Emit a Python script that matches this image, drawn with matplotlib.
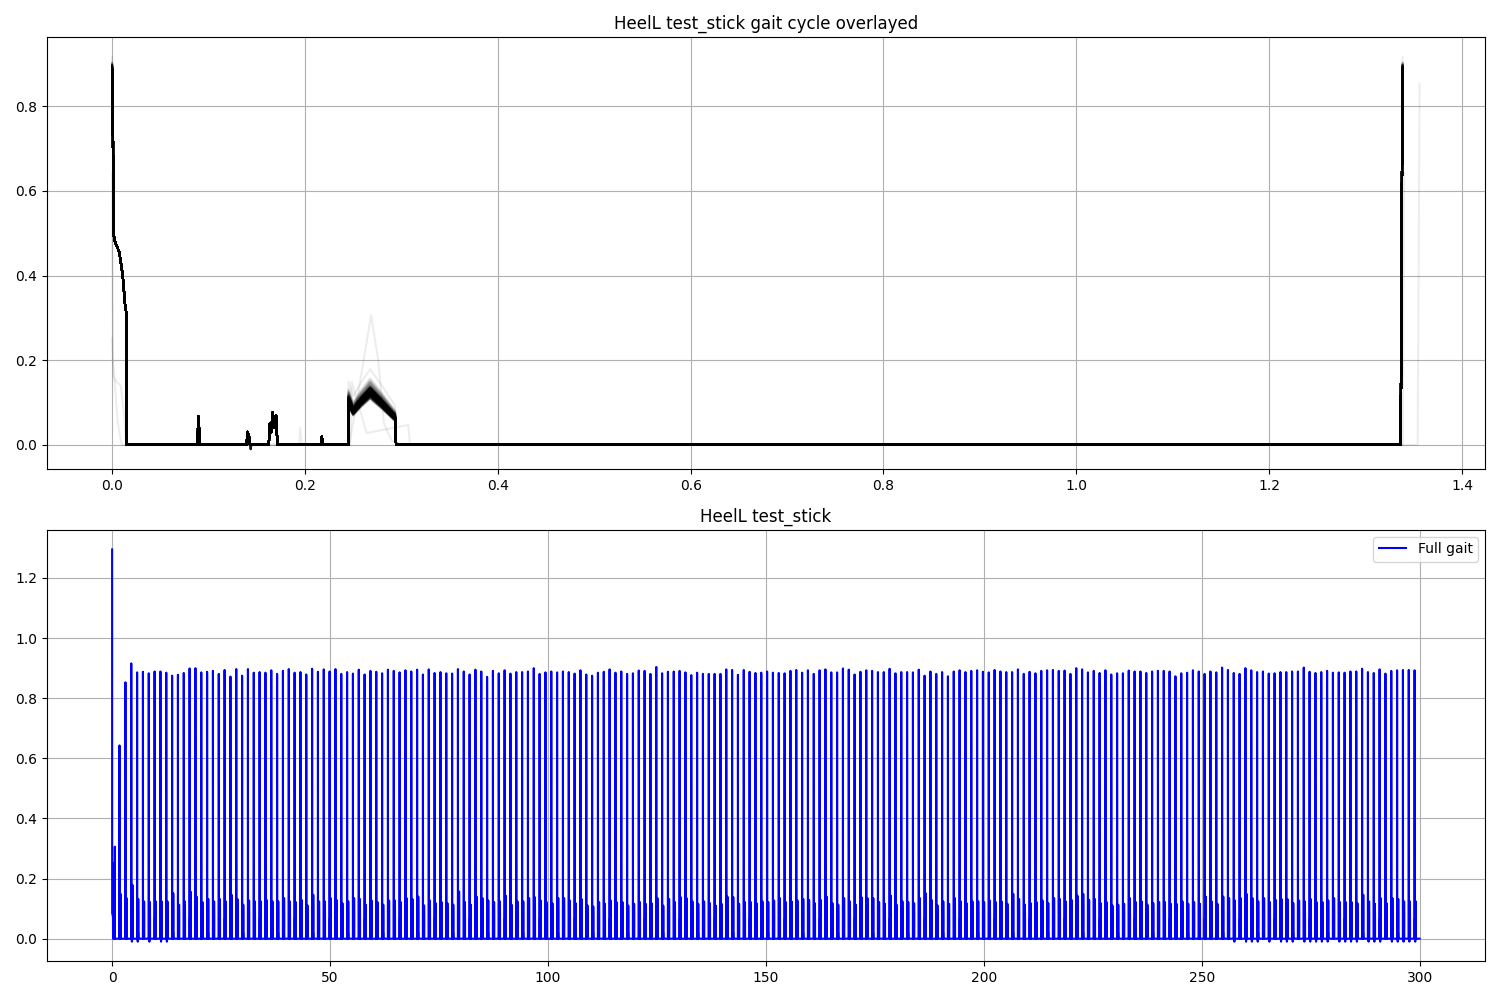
import numpy as np
import matplotlib.pyplot as plt

# heel strike peak of every regular cycle (left to right)
heel_peaks = [0.853, 0.916, 0.886, 0.888, 0.883, 0.889, 0.889, 0.885, 0.875, 0.878,
              0.884, 0.899, 0.900, 0.886, 0.888, 0.891, 0.881, 0.894, 0.872, 0.897,
              0.875, 0.897, 0.885, 0.887, 0.885, 0.893, 0.881, 0.891, 0.897, 0.885,
              0.887, 0.879, 0.898, 0.888, 0.896, 0.889, 0.897, 0.881, 0.887, 0.882,
              0.895, 0.879, 0.891, 0.888, 0.883, 0.895,
              0.891, 0.886, 0.893, 0.889, 0.895, 0.879, 0.896, 0.884, 0.887, 0.883,
              0.882, 0.897, 0.889, 0.879, 0.895, 0.889, 0.871, 0.891, 0.883, 0.893,
              0.882, 0.887, 0.887, 0.889, 0.900, 0.881, 0.886, 0.889, 0.886, 0.889,
              0.887, 0.882, 0.893, 0.879, 0.875, 0.885, 0.888, 0.896, 0.885, 0.889,
              0.881, 0.883, 0.892, 0.891, 0.881, 0.904, 0.883, 0.888, 0.889, 0.891,
              0.886, 0.877, 0.885, 0.881, 0.881, 0.881, 0.881, 0.896, 0.894, 0.878,
              0.894, 0.888, 0.884, 0.885, 0.889, 0.885, 0.884,
              0.883, 0.891, 0.894, 0.885, 0.893, 0.881, 0.893, 0.896, 0.886, 0.886,
              0.899, 0.895, 0.879, 0.888, 0.893, 0.891, 0.887, 0.887, 0.898, 0.883,
              0.887, 0.887, 0.886, 0.895, 0.875, 0.889, 0.881, 0.887, 0.873, 0.889,
              0.893, 0.887, 0.891, 0.893, 0.888, 0.886, 0.894, 0.889, 0.887, 0.887,
              0.896, 0.881, 0.888, 0.883, 0.891, 0.893, 0.894, 0.891, 0.892, 0.881,
              0.900, 0.896, 0.886, 0.891, 0.884, 0.893, 0.879, 0.883, 0.883, 0.892,
              0.889, 0.889, 0.884, 0.889, 0.891, 0.891,
              0.889, 0.873, 0.883, 0.885, 0.893, 0.889, 0.881, 0.889, 0.886, 0.902,
              0.894, 0.884, 0.881, 0.900, 0.893, 0.887, 0.889, 0.882, 0.883, 0.887,
              0.887, 0.889, 0.889, 0.902, 0.888, 0.884, 0.887, 0.891, 0.885, 0.886,
              0.885, 0.889, 0.889, 0.898, 0.887, 0.884, 0.896, 0.882, 0.891, 0.893,
              0.894, 0.894, 0.893]

# height of the second (mid stance) bump of every regular cycle
bump_peaks = [0.135, 0.179, 0.132, 0.124, 0.122, 0.124, 0.124, 0.124, 0.151, 0.113,
              0.124, 0.156, 0.140, 0.122, 0.132, 0.124, 0.132, 0.124, 0.146, 0.132,
              0.113, 0.127, 0.124, 0.124, 0.129, 0.124, 0.124, 0.135, 0.124, 0.122,
              0.129, 0.111, 0.146, 0.124, 0.124, 0.135, 0.129, 0.118, 0.124, 0.135,
              0.132, 0.113,
              0.127, 0.122, 0.113, 0.127, 0.127, 0.122, 0.135, 0.132, 0.140, 0.111,
              0.127, 0.118, 0.122, 0.118, 0.113, 0.157, 0.122, 0.113, 0.140, 0.135,
              0.127, 0.122, 0.124, 0.143, 0.113, 0.124, 0.124, 0.135, 0.138, 0.127,
              0.122, 0.118, 0.135, 0.135, 0.127, 0.118, 0.132, 0.111, 0.107, 0.122,
              0.116, 0.127, 0.122, 0.122, 0.110,
              0.116, 0.122, 0.116, 0.118, 0.135, 0.110, 0.132, 0.122, 0.138, 0.135,
              0.124, 0.116, 0.124, 0.118, 0.110, 0.116, 0.140, 0.138, 0.116, 0.122,
              0.122, 0.118, 0.124, 0.122, 0.127, 0.135, 0.122, 0.124, 0.127, 0.132,
              0.129, 0.118, 0.129, 0.140, 0.118, 0.113, 0.135, 0.124, 0.113, 0.138,
              0.135, 0.135, 0.122, 0.116, 0.143,
              0.113, 0.124, 0.122, 0.118, 0.135, 0.151, 0.129, 0.111, 0.124, 0.116,
              0.135, 0.124, 0.118, 0.124, 0.124, 0.122, 0.127, 0.122, 0.124, 0.116,
              0.149, 0.132, 0.113, 0.118, 0.122, 0.127, 0.118, 0.135, 0.132, 0.124,
              0.129, 0.143, 0.149, 0.129, 0.132, 0.118, 0.122, 0.110, 0.113, 0.116,
              0.135, 0.122, 0.124, 0.113, 0.118,
              0.122, 0.122, 0.116, 0.116, 0.124, 0.116, 0.122, 0.116, 0.140, 0.124,
              0.116, 0.140, 0.135, 0.127, 0.135, 0.149, 0.135, 0.124, 0.135, 0.122,
              0.129, 0.132, 0.132, 0.118, 0.127, 0.124, 0.132, 0.122, 0.122, 0.127,
              0.135, 0.122, 0.122, 0.122, 0.118, 0.146, 0.124, 0.116, 0.135, 0.118,
              0.135, 0.132, 0.124, 0.124]

# cycles that dip slightly below zero
dip_cycles = [1, 2, 4, 6, 7, 190, 192, 193, 194, 196, 198, 199, 200, 202, 203, 204,
              205, 206, 208, 209, 210, 211, 213, 214, 215, 217, 218, 219, 220, 221]
dip_depth = -0.010

first_cycle_start = 3.06   # s
cycle_len = 1.3384         # s
record_end = 300.0         # s

# shape of one cycle (time in s from heel strike)
drop_t = [0.0005, 0.0009, 0.0013, 0.003, 0.0075, 0.011, 0.0135, 0.0148, 0.0152]
drop_v = [0.76, 0.73, 0.50, 0.48, 0.455, 0.40, 0.33, 0.31, 0.0]
spike_t = [0.0888, 0.0893, 0.0905, 0.0910, 0.1395, 0.1405, 0.1425, 0.1430]
spike_v = [0.0, 0.068, 0.030, 0.0, 0.0, 0.031, 0.015, 0.0]
dip_t = [0.1433, 0.1438, 0.1443]
spike2_t = [0.1625, 0.1635, 0.1650, 0.1665, 0.1685, 0.1700, 0.1715, 0.2170, 0.2175, 0.2185]
spike2_v = [0.0, 0.050, 0.030, 0.077, 0.040, 0.070, 0.0, 0.0, 0.020, 0.0]
bump_t = [0.2448, 0.2452, 0.2500, 0.2580, 0.2676, 0.2800, 0.2935, 0.2945]
bump_v = [0.0, 0.102, 0.078, 0.100, 0.122, 0.095, 0.063, 0.0]
rise_t = [-0.0020, -0.0002]   # relative to the next heel strike
rise_v = [0.0, 0.87]

# two irregular cycles at the start of the recording (faint lines)
startA_t = [0.0, 0.0015, 0.004, 0.009, 0.013, 0.0145, 0.246, 0.255, 0.2686, 0.276,
            0.282, 0.290, 0.300, 1.3385, 1.3400]
startA_v = [0.251, 0.160, 0.150, 0.140, 0.060, 0.0, 0.0, 0.120, 0.306, 0.200,
            0.050, 0.010, 0.0, 0.0, 0.643]
startB_t = [0.0, 0.001, 0.006, 0.010, 0.194, 0.195, 0.197, 0.2470, 0.2485, 0.264,
            0.307, 0.309, 1.354, 1.356]
startB_v = [0.643, 0.200, 0.050, 0.0, 0.0, 0.040, 0.0, 0.0, 0.149, 0.028,
            0.047, 0.0, 0.0, 0.853]
pre_t = [0.0, 0.010, 0.012, 0.10, 0.20, 0.22]
pre_v = [1.295, 0.090, 0.085, 0.080, 0.070, 0.0]
startA_at = 0.36
startB_at = 1.70


def one_cycle(peak, bump, dip, next_peak=None):
    t = [0.0] + drop_t + spike_t + dip_t + spike2_t + bump_t
    scale = bump / bump_v[4]
    v = ([peak] + drop_v + spike_v + [0.0, dip, 0.0] + spike2_v
         + [b * scale for b in bump_v])
    if next_peak is not None:
        t += [cycle_len + r for r in rise_t] + [cycle_len]
        v += [min(r, next_peak) for r in rise_v] + [next_peak]
    return np.array(t), np.array(v)


fig, (ax1, ax2) = plt.subplots(2, 1, figsize=(15, 10), dpi=100)

full_t = list(pre_t)
full_v = list(pre_v)
full_t += [startA_at + x for x in startA_t[:-1]]
full_v += startA_v[:-1]
full_t += [startB_at + x for x in startB_t[:-1]]
full_v += startB_v[:-1]

ax1.plot(startA_t, startA_v, 'k', alpha=0.07)
ax1.plot(startB_t, startB_v, 'k', alpha=0.07)

for k in range(len(heel_peaks) - 1):
    dip = dip_depth if k in dip_cycles else 0.0
    t, v = one_cycle(heel_peaks[k], bump_peaks[k], dip, heel_peaks[k + 1])
    ax1.plot(t, v, 'k', alpha=0.07)
    t0 = first_cycle_start + k * cycle_len
    full_t += list(t[:-1] + t0)
    full_v += list(v[:-1])

# last heel strike, recording stops shortly after
k = len(heel_peaks) - 1
t, v = one_cycle(heel_peaks[k], bump_peaks[-1], dip_depth)
t0 = first_cycle_start + k * cycle_len
full_t += list(t + t0) + [record_end]
full_v += list(v) + [0.0]

ax1.set_title('HeelL test_stick gait cycle overlayed')
ax1.grid(True)

ax2.plot(full_t, full_v, 'b', label='Full gait')
ax2.set_title('HeelL test_stick')
ax2.legend(loc='upper right')
ax2.grid(True)

plt.tight_layout()
plt.savefig('out.png')
